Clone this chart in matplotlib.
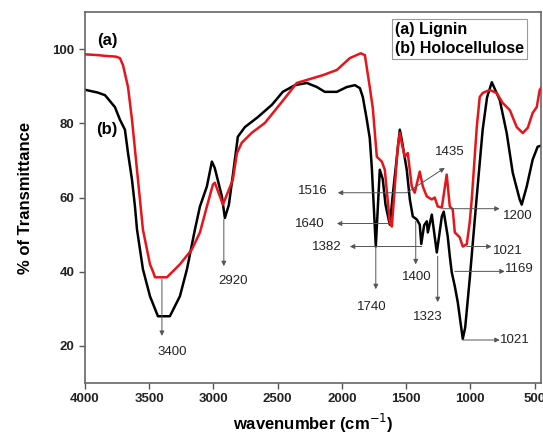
import matplotlib
matplotlib.use("Agg")
import matplotlib.pyplot as plt

plt.rcParams['font.family'] = ['Liberation Sans', 'DejaVu Sans']

# (a) Lignin - red trace
wn_lignin = [3992, 3900, 3844, 3760, 3728, 3704, 3665, 3634, 3588, 3549, 3494, 3470,
             3455, 3362, 3261, 3168, 3105, 3051, 3004, 2989, 2926, 2849, 2817, 2779,
             2700, 2600, 2537, 2444, 2351, 2148, 2039, 1938, 1853, 1821, 1783, 1759,
             1728, 1689, 1666, 1627, 1611, 1565, 1549, 1530, 1510, 1487, 1456, 1433,
             1394, 1370, 1339, 1300, 1277, 1254, 1222, 1184, 1160, 1137, 1121, 1083,
             1059, 1028, 1005, 989, 966, 950, 927, 904, 849, 795, 748, 693, 639, 592,
             553, 515, 483, 460, 450]
tr_lignin = [98.6, 98.4, 98.2, 98.0, 97.6, 95.7, 89.8, 81.0, 65.0, 51.4, 42.0, 40.0,
             38.5, 38.5, 42.0, 46.0, 50.6, 57.6, 63.5, 64.0, 58.1, 64.8, 72.0, 74.8,
             77.5, 80.1, 82.8, 86.8, 90.9, 93.0, 94.4, 97.6, 98.9, 98.4, 89.8, 84.0,
             71.0, 69.7, 67.5, 53.3, 52.2, 73.7, 77.4, 74.0, 71.0, 72.0, 63.0, 61.3,
             67.0, 63.0, 60.3, 59.5, 60.0, 57.6, 57.3, 66.2, 57.6, 56.8, 50.6, 49.3,
             46.8, 47.4, 53.3, 59.5, 71.0, 79.0, 87.1, 88.2, 89.0, 88.2, 85.5, 83.6,
             79.0, 77.4, 78.8, 82.8, 84.4, 89.0, 89.5]

# (b) Holocellulose - black trace
wn_holo = [3992, 3900, 3844, 3767, 3728, 3689, 3665, 3634, 3611, 3595, 3549, 3494,
           3432, 3339, 3261, 3206, 3144, 3105, 3051, 3012, 2990, 2934, 2911, 2880,
           2849, 2810, 2755, 2654, 2545, 2460, 2366, 2273, 2195, 2133, 2039, 1962,
           1899, 1860, 1837, 1806, 1783, 1767, 1736, 1705, 1682, 1660, 1627, 1600,
           1549, 1534, 1495, 1471, 1448, 1417, 1394, 1382, 1360, 1339, 1331, 1300,
           1261, 1222, 1207, 1176, 1160, 1145, 1121, 1098, 1059, 1040, 1005, 950,
           904, 870, 833, 771, 717, 670, 616, 600, 561, 515, 476, 450]
tr_holo = [89.0, 88.3, 87.6, 84.4, 81.0, 78.3, 72.0, 64.8, 57.6, 51.4, 40.7, 33.4,
           28.0, 28.0, 33.4, 40.7, 51.4, 57.6, 63.0, 69.7, 68.0, 60.3, 54.5, 58.0,
           66.0, 76.4, 79.0, 81.7, 85.0, 88.5, 90.3, 90.9, 89.8, 88.5, 88.5, 89.8,
           90.3, 89.5, 87.1, 81.0, 76.0, 68.0, 46.8, 67.5, 65.0, 58.0, 52.7, 62.0,
           78.3, 75.6, 67.5, 59.5, 54.9, 54.1, 52.7, 47.5, 52.5, 53.6, 50.6, 55.4,
           45.2, 54.9, 56.2, 49.5, 44.2, 39.9, 36.1, 31.8, 21.9, 25.0, 38.0, 60.3,
           78.3, 87.0, 91.1, 86.3, 77.4, 66.7, 59.5, 58.1, 63.0, 70.2, 73.7, 74.0]

x_ticks = [4000, 3500, 3000, 2500, 2000, 1500, 1000, 500]
y_ticks = [20, 40, 60, 80, 100]

# band labels: text, arrow tail, arrow head, text position
bands = [
    ("3400", (3401, 38.0), (3401, 22.7), (3323, 18.4)),
    ("2920", (2919, 54.1), (2919, 41.5), (2849, 37.4)),
    ("1740", (1736, 46.8), (1736, 35.3), (1767, 30.5)),
    ("1516", (1495, 61.3), (2032, 61.3), (2226, 61.9)),
    ("1640", (1627, 53.0), (2039, 53.0), (2250, 53.0)),
    ("1382", (1378, 46.8), (1938, 46.8), (2117, 46.8)),
    ("1400", (1425, 53.6), (1425, 42.0), (1417, 38.5)),
    ("1323", (1254, 44.2), (1254, 31.8), (1331, 27.8)),
    ("1435", (1495, 61.3), (1199, 68.0), (1160, 72.3)),
    ("1200", (1215, 57.0), (771, 57.0), (631, 54.9)),
    ("1021", (1028, 46.8), (834, 46.8), (709, 45.5)),
    ("1169", (1121, 40.1), (732, 40.1), (616, 40.7)),
    ("1021", (1059, 21.6), (771, 21.6), (655, 21.6)),
]

fig = plt.figure(figsize=(5.43, 4.40), dpi=100)
ax = fig.add_axes([0.1565, 0.1295, 0.8398, 0.843])

ax.plot(wn_lignin, tr_lignin, color='#e8141a', lw=1.8, zorder=3)
ax.plot(wn_holo, tr_holo, color='black', lw=1.8, zorder=2)

for label, tail, head, txt in bands:
    ax.annotate('', xy=head, xytext=tail,
                arrowprops=dict(arrowstyle='-|>', color='#555555', lw=0.7,
                                mutation_scale=7, shrinkA=0, shrinkB=0),
                zorder=4)
    ax.text(txt[0], txt[1], label, ha='center', va='center', fontsize=9.5,
            color='#222222')

ax.text(3829, 102.4, "(a)", fontsize=12, fontweight='bold', ha='center', va='center')
ax.text(3829, 78.3, "(b)", fontsize=12, fontweight='bold', ha='center', va='center')

ax.text(0.68, 0.972, "(a) Lignin\n(b) Holocellulose", transform=ax.transAxes,
        ha='left', va='top', fontsize=11.5, fontweight='bold', linespacing=1.3,
        bbox=dict(boxstyle='square,pad=0.2', fc='white', ec='#9a9a9a', lw=0.8))

ax.set_xlim(4000, 450)
ax.set_ylim(10, 110)
ax.set_xticks(x_ticks)
ax.set_yticks(y_ticks)
ax.tick_params(direction='out', length=4, width=1, colors='#555555',
               labelcolor='#222222', labelsize=9.5)
for lbl in ax.get_xticklabels() + ax.get_yticklabels():
    lbl.set_fontweight('bold')
for sp in ax.spines.values():
    sp.set_color('#666666')
    sp.set_linewidth(1.2)

ax.set_xlabel("wavenumber (cm$^{-1}$)", fontsize=12, fontweight='bold', labelpad=5)
ax.set_ylabel("% of Transmittance", fontsize=12, fontweight='bold', labelpad=14)

fig.savefig("out.png", dpi=100)
